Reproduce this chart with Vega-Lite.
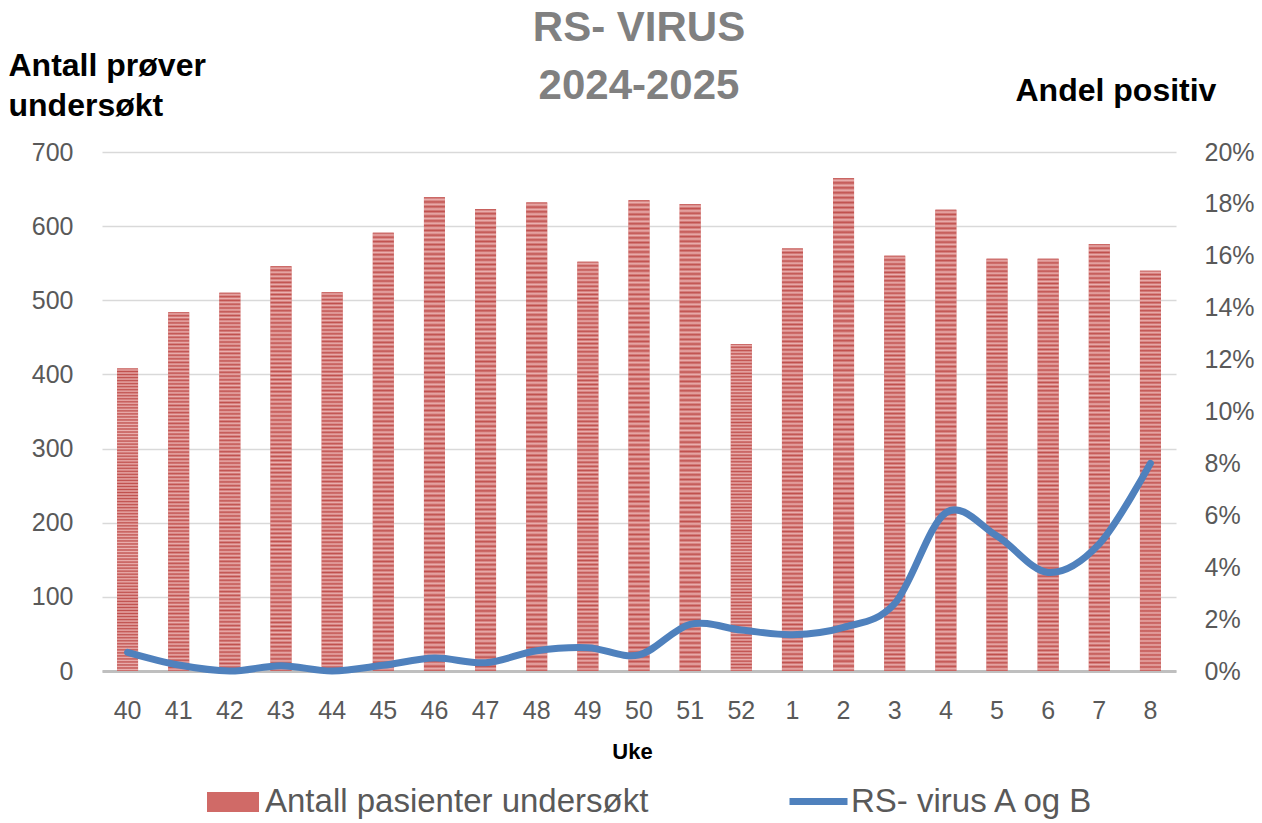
{
  "$schema": "https://vega.github.io/schema/vega-lite/v6.json",
  "autosize": {"type": "none"},
  "padding": {"left": 102, "top": 152, "right": 86, "bottom": 152},
  "width": 1074,
  "height": 519,
  "background": "white",
  "config": {
    "font": "Liberation Sans",
    "view": {"stroke": null},
    "axis": {"labelFont": "Liberation Sans", "titleFont": "Liberation Sans"},
    "legend": {"labelFont": "Liberation Sans"}
  },
  "title": {
    "text": ["RS- VIRUS", "2024-2025"],
    "fontSize": 42,
    "fontWeight": "bold",
    "color": "#808080",
    "lineHeight": 58,
    "anchor": "middle",
    "frame": "group",
    "baseline": "alphabetic",
    "offset": 0,
    "dy": 92
  },
  "data": {
    "values": [
      {"uke": "40", "antall": 408, "andel": 0.0072},
      {"uke": "41", "antall": 484, "andel": 0.0023},
      {"uke": "42", "antall": 510, "andel": 0.0},
      {"uke": "43", "antall": 546, "andel": 0.002},
      {"uke": "44", "antall": 511, "andel": 0.0},
      {"uke": "45", "antall": 591, "andel": 0.0022},
      {"uke": "46", "antall": 639, "andel": 0.005},
      {"uke": "47", "antall": 623, "andel": 0.0032},
      {"uke": "48", "antall": 632, "andel": 0.0078},
      {"uke": "49", "antall": 552, "andel": 0.009},
      {"uke": "50", "antall": 635, "andel": 0.0062},
      {"uke": "51", "antall": 630, "andel": 0.018},
      {"uke": "52", "antall": 441, "andel": 0.0158},
      {"uke": "1", "antall": 570, "andel": 0.014},
      {"uke": "2", "antall": 665, "andel": 0.0168},
      {"uke": "3", "antall": 560, "andel": 0.026},
      {"uke": "4", "antall": 622, "andel": 0.061},
      {"uke": "5", "antall": 556, "andel": 0.052},
      {"uke": "6", "antall": 556, "andel": 0.038},
      {"uke": "7", "antall": 576, "andel": 0.049},
      {"uke": "8", "antall": 540, "andel": 0.08}
    ]
  },
  "encoding": {
    "x": {
      "field": "uke",
      "type": "nominal",
      "sort": null,
      "scale": {"paddingInner": 0.59, "paddingOuter": 0.295},
      "axis": {
        "title": "Uke",
        "titleFontSize": 22,
        "titleFontWeight": "bold",
        "titleColor": "#000000",
        "titleX": 530,
        "titleY": 87,
        "titleAlign": "center",
        "titleBaseline": "alphabetic",
        "labelAngle": 0,
        "labelFontSize": 25,
        "labelColor": "#595959",
        "labelPadding": 27,
        "ticks": false,
        "domain": true,
        "domainColor": "#bfbfbf",
        "domainWidth": 3,
        "grid": false
      }
    }
  },
  "layer": [
    {
      "mark": {"type": "bar"},
      "encoding": {
        "y": {
          "field": "antall",
          "type": "quantitative",
          "scale": {"domain": [0, 700], "nice": false},
          "axis": {
            "title": ["Antall prøver", "undersøkt"],
            "titleAngle": 0,
            "titleAlign": "left",
            "titleBaseline": "alphabetic",
            "titleX": -94,
            "titleY": -77,
            "titleFontSize": 32,
            "titleFontWeight": "bold",
            "titleColor": "#000000",
            "titleLineHeight": 40,
            "values": [0, 100, 200, 300, 400, 500, 600, 700],
            "labelFontSize": 25,
            "labelColor": "#595959",
            "labelPadding": 29,
            "ticks": false,
            "domain": false,
            "grid": true,
            "gridColor": "#d9d9d9",
            "gridWidth": 1.3
          }
        },
        "fill": {
          "datum": "Antall pasienter undersøkt",
          "type": "nominal",
          "scale": {"range": ["#d06a67"]},
          "legend": {
            "title": null,
            "orient": "none",
            "legendX": 105,
            "legendY": 624,
            "padding": 0,
            "symbolType": "M-1,-0.38H1V0.38H-1Z",
            "symbolSize": 2704,
            "symbolStrokeWidth": 0,
            "symbolOpacity": 1,
            "labelFontSize": 33,
            "labelColor": "#595959",
            "labelOffset": 6,
            "labelLimit": 0
          }
        }
      }
    },
    {
      "mark": {
        "type": "bar",
        "fill": {
          "gradient": "linear", "x1": 0, "y1": 0, "x2": 0, "y2": 1,
          "stops": [
            {"offset": 0, "color": "#c0504d"}, {"offset": 0.005, "color": "#eab0af"},
            {"offset": 0.01, "color": "#c0504d"}, {"offset": 0.015, "color": "#eab0af"},
            {"offset": 0.02, "color": "#c0504d"}, {"offset": 0.025, "color": "#eab0af"},
            {"offset": 0.03, "color": "#c0504d"}, {"offset": 0.035, "color": "#eab0af"},
            {"offset": 0.04, "color": "#c0504d"}, {"offset": 0.045, "color": "#eab0af"},
            {"offset": 0.05, "color": "#c0504d"}, {"offset": 0.055, "color": "#eab0af"},
            {"offset": 0.06, "color": "#c0504d"}, {"offset": 0.065, "color": "#eab0af"},
            {"offset": 0.07, "color": "#c0504d"}, {"offset": 0.075, "color": "#eab0af"},
            {"offset": 0.08, "color": "#c0504d"}, {"offset": 0.085, "color": "#eab0af"},
            {"offset": 0.09, "color": "#c0504d"}, {"offset": 0.095, "color": "#eab0af"},
            {"offset": 0.1, "color": "#c0504d"}, {"offset": 0.105, "color": "#eab0af"},
            {"offset": 0.11, "color": "#c0504d"}, {"offset": 0.115, "color": "#eab0af"},
            {"offset": 0.12, "color": "#c0504d"}, {"offset": 0.125, "color": "#eab0af"},
            {"offset": 0.13, "color": "#c0504d"}, {"offset": 0.135, "color": "#eab0af"},
            {"offset": 0.14, "color": "#c0504d"}, {"offset": 0.145, "color": "#eab0af"},
            {"offset": 0.15, "color": "#c0504d"}, {"offset": 0.155, "color": "#eab0af"},
            {"offset": 0.16, "color": "#c0504d"}, {"offset": 0.165, "color": "#eab0af"},
            {"offset": 0.17, "color": "#c0504d"}, {"offset": 0.175, "color": "#eab0af"},
            {"offset": 0.18, "color": "#c0504d"}, {"offset": 0.185, "color": "#eab0af"},
            {"offset": 0.19, "color": "#c0504d"}, {"offset": 0.195, "color": "#eab0af"},
            {"offset": 0.2, "color": "#c0504d"}, {"offset": 0.205, "color": "#eab0af"},
            {"offset": 0.21, "color": "#c0504d"}, {"offset": 0.215, "color": "#eab0af"},
            {"offset": 0.22, "color": "#c0504d"}, {"offset": 0.225, "color": "#eab0af"},
            {"offset": 0.23, "color": "#c0504d"}, {"offset": 0.235, "color": "#eab0af"},
            {"offset": 0.24, "color": "#c0504d"}, {"offset": 0.245, "color": "#eab0af"},
            {"offset": 0.25, "color": "#c0504d"}, {"offset": 0.255, "color": "#eab0af"},
            {"offset": 0.26, "color": "#c0504d"}, {"offset": 0.265, "color": "#eab0af"},
            {"offset": 0.27, "color": "#c0504d"}, {"offset": 0.275, "color": "#eab0af"},
            {"offset": 0.28, "color": "#c0504d"}, {"offset": 0.285, "color": "#eab0af"},
            {"offset": 0.29, "color": "#c0504d"}, {"offset": 0.295, "color": "#eab0af"},
            {"offset": 0.3, "color": "#c0504d"}, {"offset": 0.305, "color": "#eab0af"},
            {"offset": 0.31, "color": "#c0504d"}, {"offset": 0.315, "color": "#eab0af"},
            {"offset": 0.32, "color": "#c0504d"}, {"offset": 0.325, "color": "#eab0af"},
            {"offset": 0.33, "color": "#c0504d"}, {"offset": 0.335, "color": "#eab0af"},
            {"offset": 0.34, "color": "#c0504d"}, {"offset": 0.345, "color": "#eab0af"},
            {"offset": 0.35, "color": "#c0504d"}, {"offset": 0.355, "color": "#eab0af"},
            {"offset": 0.36, "color": "#c0504d"}, {"offset": 0.365, "color": "#eab0af"},
            {"offset": 0.37, "color": "#c0504d"}, {"offset": 0.375, "color": "#eab0af"},
            {"offset": 0.38, "color": "#c0504d"}, {"offset": 0.385, "color": "#eab0af"},
            {"offset": 0.39, "color": "#c0504d"}, {"offset": 0.395, "color": "#eab0af"},
            {"offset": 0.4, "color": "#c0504d"}, {"offset": 0.405, "color": "#eab0af"},
            {"offset": 0.41, "color": "#c0504d"}, {"offset": 0.415, "color": "#eab0af"},
            {"offset": 0.42, "color": "#c0504d"}, {"offset": 0.425, "color": "#eab0af"},
            {"offset": 0.43, "color": "#c0504d"}, {"offset": 0.435, "color": "#eab0af"},
            {"offset": 0.44, "color": "#c0504d"}, {"offset": 0.445, "color": "#eab0af"},
            {"offset": 0.45, "color": "#c0504d"}, {"offset": 0.455, "color": "#eab0af"},
            {"offset": 0.46, "color": "#c0504d"}, {"offset": 0.465, "color": "#eab0af"},
            {"offset": 0.47, "color": "#c0504d"}, {"offset": 0.475, "color": "#eab0af"},
            {"offset": 0.48, "color": "#c0504d"}, {"offset": 0.485, "color": "#eab0af"},
            {"offset": 0.49, "color": "#c0504d"}, {"offset": 0.495, "color": "#eab0af"},
            {"offset": 0.5, "color": "#c0504d"}, {"offset": 0.505, "color": "#eab0af"},
            {"offset": 0.51, "color": "#c0504d"}, {"offset": 0.515, "color": "#eab0af"},
            {"offset": 0.52, "color": "#c0504d"}, {"offset": 0.525, "color": "#eab0af"},
            {"offset": 0.53, "color": "#c0504d"}, {"offset": 0.535, "color": "#eab0af"},
            {"offset": 0.54, "color": "#c0504d"}, {"offset": 0.545, "color": "#eab0af"},
            {"offset": 0.55, "color": "#c0504d"}, {"offset": 0.555, "color": "#eab0af"},
            {"offset": 0.56, "color": "#c0504d"}, {"offset": 0.565, "color": "#eab0af"},
            {"offset": 0.57, "color": "#c0504d"}, {"offset": 0.575, "color": "#eab0af"},
            {"offset": 0.58, "color": "#c0504d"}, {"offset": 0.585, "color": "#eab0af"},
            {"offset": 0.59, "color": "#c0504d"}, {"offset": 0.595, "color": "#eab0af"},
            {"offset": 0.6, "color": "#c0504d"}, {"offset": 0.605, "color": "#eab0af"},
            {"offset": 0.61, "color": "#c0504d"}, {"offset": 0.615, "color": "#eab0af"},
            {"offset": 0.62, "color": "#c0504d"}, {"offset": 0.625, "color": "#eab0af"},
            {"offset": 0.63, "color": "#c0504d"}, {"offset": 0.635, "color": "#eab0af"},
            {"offset": 0.64, "color": "#c0504d"}, {"offset": 0.645, "color": "#eab0af"},
            {"offset": 0.65, "color": "#c0504d"}, {"offset": 0.655, "color": "#eab0af"},
            {"offset": 0.66, "color": "#c0504d"}, {"offset": 0.665, "color": "#eab0af"},
            {"offset": 0.67, "color": "#c0504d"}, {"offset": 0.675, "color": "#eab0af"},
            {"offset": 0.68, "color": "#c0504d"}, {"offset": 0.685, "color": "#eab0af"},
            {"offset": 0.69, "color": "#c0504d"}, {"offset": 0.695, "color": "#eab0af"},
            {"offset": 0.7, "color": "#c0504d"}, {"offset": 0.705, "color": "#eab0af"},
            {"offset": 0.71, "color": "#c0504d"}, {"offset": 0.715, "color": "#eab0af"},
            {"offset": 0.72, "color": "#c0504d"}, {"offset": 0.725, "color": "#eab0af"},
            {"offset": 0.73, "color": "#c0504d"}, {"offset": 0.735, "color": "#eab0af"},
            {"offset": 0.74, "color": "#c0504d"}, {"offset": 0.745, "color": "#eab0af"},
            {"offset": 0.75, "color": "#c0504d"}, {"offset": 0.755, "color": "#eab0af"},
            {"offset": 0.76, "color": "#c0504d"}, {"offset": 0.765, "color": "#eab0af"},
            {"offset": 0.77, "color": "#c0504d"}, {"offset": 0.775, "color": "#eab0af"},
            {"offset": 0.78, "color": "#c0504d"}, {"offset": 0.785, "color": "#eab0af"},
            {"offset": 0.79, "color": "#c0504d"}, {"offset": 0.795, "color": "#eab0af"},
            {"offset": 0.8, "color": "#c0504d"}, {"offset": 0.805, "color": "#eab0af"},
            {"offset": 0.81, "color": "#c0504d"}, {"offset": 0.815, "color": "#eab0af"},
            {"offset": 0.82, "color": "#c0504d"}, {"offset": 0.825, "color": "#eab0af"},
            {"offset": 0.83, "color": "#c0504d"}, {"offset": 0.835, "color": "#eab0af"},
            {"offset": 0.84, "color": "#c0504d"}, {"offset": 0.845, "color": "#eab0af"},
            {"offset": 0.85, "color": "#c0504d"}, {"offset": 0.855, "color": "#eab0af"},
            {"offset": 0.86, "color": "#c0504d"}, {"offset": 0.865, "color": "#eab0af"},
            {"offset": 0.87, "color": "#c0504d"}, {"offset": 0.875, "color": "#eab0af"},
            {"offset": 0.88, "color": "#c0504d"}, {"offset": 0.885, "color": "#eab0af"},
            {"offset": 0.89, "color": "#c0504d"}, {"offset": 0.895, "color": "#eab0af"},
            {"offset": 0.9, "color": "#c0504d"}, {"offset": 0.905, "color": "#eab0af"},
            {"offset": 0.91, "color": "#c0504d"}, {"offset": 0.915, "color": "#eab0af"},
            {"offset": 0.92, "color": "#c0504d"}, {"offset": 0.925, "color": "#eab0af"},
            {"offset": 0.93, "color": "#c0504d"}, {"offset": 0.935, "color": "#eab0af"},
            {"offset": 0.94, "color": "#c0504d"}, {"offset": 0.945, "color": "#eab0af"},
            {"offset": 0.95, "color": "#c0504d"}, {"offset": 0.955, "color": "#eab0af"},
            {"offset": 0.96, "color": "#c0504d"}, {"offset": 0.965, "color": "#eab0af"},
            {"offset": 0.97, "color": "#c0504d"}, {"offset": 0.975, "color": "#eab0af"},
            {"offset": 0.98, "color": "#c0504d"}, {"offset": 0.985, "color": "#eab0af"},
            {"offset": 0.99, "color": "#c0504d"}, {"offset": 0.995, "color": "#eab0af"},
            {"offset": 1, "color": "#c0504d"}
          ]
        }
      },
      "encoding": {
        "y": {"field": "antall", "type": "quantitative", "scale": {"domain": [0, 700], "nice": false}, "axis": null}
      }
    },
    {
      "mark": {"type": "line", "interpolate": "cardinal", "strokeWidth": 7, "strokeCap": "round", "strokeJoin": "round"},
      "encoding": {
        "y": {
          "field": "andel",
          "type": "quantitative",
          "scale": {"domain": [0, 0.2], "nice": false},
          "axis": {
            "orient": "right",
            "title": "Andel positiv",
            "titleAngle": 0,
            "titleAlign": "left",
            "titleBaseline": "alphabetic",
            "titleX": -161,
            "titleY": -52,
            "titleFontSize": 32,
            "titleFontWeight": "bold",
            "titleColor": "#000000",
            "values": [0, 0.02, 0.04, 0.06, 0.08, 0.1, 0.12, 0.14, 0.16, 0.18, 0.2],
            "format": ".0%",
            "labelFontSize": 25,
            "labelColor": "#595959",
            "labelPadding": 28,
            "ticks": false,
            "domain": false,
            "grid": false
          }
        },
        "stroke": {
          "datum": "RS- virus A og B",
          "type": "nominal",
          "scale": {"range": ["#4f81bd"]},
          "legend": {
            "title": null,
            "orient": "none",
            "legendX": 684,
            "legendY": 617,
            "padding": 0,
            "symbolType": "stroke",
            "symbolSize": 3364,
            "symbolStrokeWidth": 7,
            "symbolOpacity": 1,
            "labelFontSize": 33,
            "labelColor": "#595959",
            "labelOffset": 0,
            "labelLimit": 0
          }
        }
      }
    }
  ],
  "resolve": {"scale": {"y": "independent", "fill": "independent", "stroke": "independent"}}
}
